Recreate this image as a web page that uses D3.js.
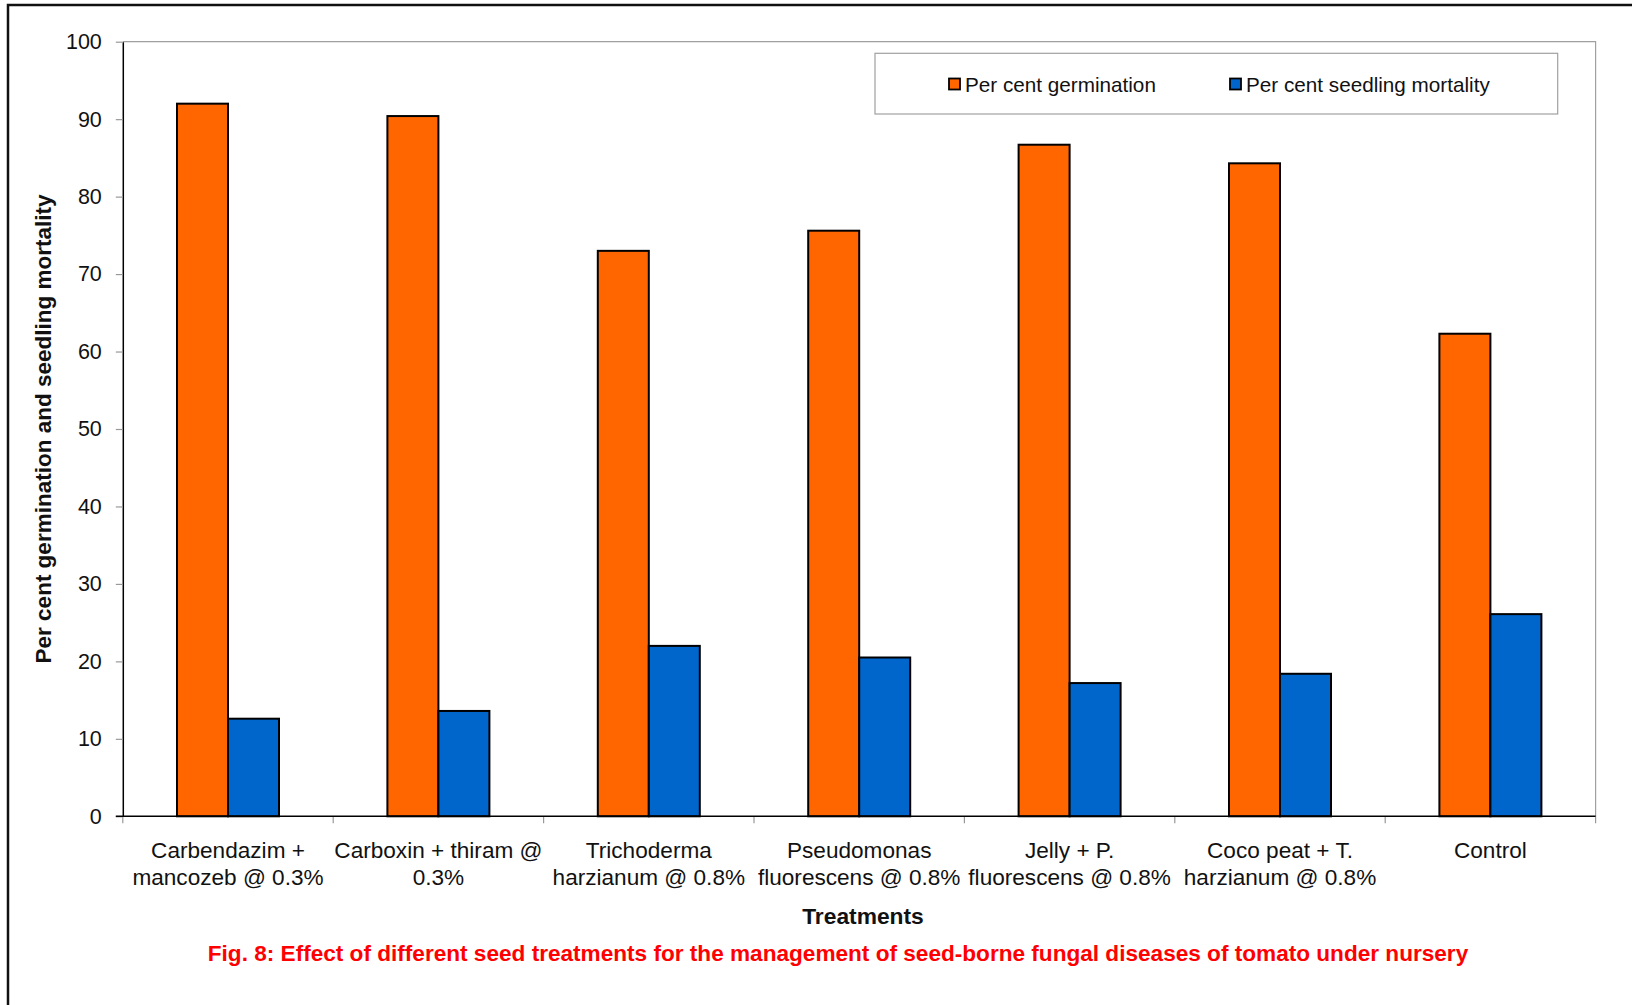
<!DOCTYPE html>
<html>
<head>
<meta charset="utf-8">
<script src="https://cdn.jsdelivr.net/npm/d3@7"></script>
<style>
  html, body { margin: 0; padding: 0; background: #fff; }
  svg { display: block; font-family: "Liberation Sans", Arial, sans-serif; }
</style>
</head>
<body>
<svg id="chart" width="1632" height="1005"></svg>
<script>
// Treatments (two-line labels) and the measured percentages
const treatments = [
  "Carbendazim + mancozeb",
  "Carboxin + thiram",
  "Trichoderma harzianum",
  "Pseudomonas fluorescens",
  "Jelly + P. fluorescens",
  "Coco peat + T. harzianum",
  "Control"
];
const labelLines = [
  ["Carbendazim +", "mancozeb @ 0.3%"],
  ["Carboxin + thiram @", "0.3%"],
  ["Trichoderma", "harzianum @ 0.8%"],
  ["Pseudomonas", "fluorescens @ 0.8%"],
  ["Jelly + P.", "fluorescens @ 0.8%"],
  ["Coco peat + T.", "harzianum @ 0.8%"],
  ["Control"]
];
const seriesNames = ["Per cent germination", "Per cent seedling mortality"];
const germination = [92.0, 90.4, 73.0, 75.6, 86.7, 84.3, 62.3];
const mortality = [12.6, 13.6, 22.0, 20.5, 17.2, 18.4, 26.1];
const yTicks = [0, 10, 20, 30, 40, 50, 60, 70, 80, 90, 100];
const colors = ["#FF6600", "#0066CC"];

const svg = d3.select("#chart");
const plotL = 122.8, plotR = 1595.6, plotT = 41.7, plotB = 816.3;

// outer frame
svg.append("rect")
  .attr("x", 8).attr("y", 5).attr("width", 1700).attr("height", 1100)
  .attr("fill", "none").attr("stroke", "#111").attr("stroke-width", 2.5);

const x = d3.scaleBand().domain(treatments).range([plotL, plotR]).padding(0);
const groupW = 102;
const xs = d3.scaleBand().domain(seriesNames).range([0, groupW]).padding(0);
const y = d3.scaleLinear().domain([0, 100]).range([plotB, plotT]);

// plot area top and right edges
svg.append("path")
  .attr("d", `M${plotL},${plotT}H${plotR}V${plotB}`)
  .attr("fill", "none").attr("stroke", "#a0a0a0").attr("stroke-width", 1.2);

// bars
const rows = treatments.map((t, i) => ({ t, vals: [germination[i], mortality[i]] }));
const groups = svg.append("g").selectAll("g").data(rows).join("g")
  .attr("transform", d => `translate(${x(d.t) + (x.bandwidth() - groupW) / 2},0)`);
groups.selectAll("rect")
  .data(d => d.vals.map((v, k) => ({ v, k })))
  .join("rect")
  .attr("x", d => xs(seriesNames[d.k]))
  .attr("width", xs.bandwidth())
  .attr("y", d => y(d.v))
  .attr("height", d => y(0) - y(d.v))
  .attr("fill", d => colors[d.k])
  .attr("stroke", "#000").attr("stroke-width", 2);

// y axis
const yAxis = svg.append("g").attr("transform", `translate(${plotL},0)`)
  .call(d3.axisLeft(y).tickValues(yTicks).tickSize(7).tickPadding(14).tickSizeOuter(0));
yAxis.select(".domain").attr("stroke", "#000").attr("stroke-width", 1.5);
yAxis.selectAll(".tick line").attr("stroke", "#999").attr("stroke-width", 1.2);
yAxis.selectAll(".tick text").attr("font-size", 21.5).attr("fill", "#111")
  .attr("font-family", "Liberation Sans, Arial, sans-serif");

// x axis: boundary ticks between treatments
const bounds = treatments.map(t => x(t)).concat([plotR]);
svg.append("g").selectAll("line").data(bounds).join("line")
  .attr("x1", d => d).attr("x2", d => d)
  .attr("y1", plotB).attr("y2", plotB + 7)
  .attr("stroke", "#999").attr("stroke-width", 1.2);
svg.append("line")
  .attr("x1", plotL - 7).attr("x2", plotR).attr("y1", plotB).attr("y2", plotB)
  .attr("stroke", "#000").attr("stroke-width", 1.5);

// x category labels
const xAxis = svg.append("g").attr("transform", `translate(0,${plotB})`)
  .call(d3.axisBottom(x).tickSize(0).tickSizeOuter(0).tickFormat(""));
xAxis.select(".domain").remove();
xAxis.selectAll(".tick text").remove();
xAxis.selectAll(".tick").each(function (d, i) {
  const t = d3.select(this).append("text")
    .attr("text-anchor", "middle").attr("font-size", 22.6).attr("fill", "#111");
  labelLines[i].forEach((ln, j) => {
    t.append("tspan").attr("x", 0).attr("y", 42 + j * 26.5).text(ln);
  });
});

// axis titles
svg.append("text")
  .attr("transform", `translate(51,${(plotT + plotB) / 2}) rotate(-90)`)
  .attr("text-anchor", "middle").attr("font-size", 22.5).attr("font-weight", "bold")
  .attr("fill", "#111")
  .text("Per cent germination and seedling mortality");

svg.append("text")
  .attr("x", 863).attr("y", 924)
  .attr("text-anchor", "middle").attr("font-size", 22.8).attr("font-weight", "bold")
  .attr("fill", "#111").text("Treatments");

svg.append("text")
  .attr("x", 838).attr("y", 961)
  .attr("text-anchor", "middle").attr("font-size", 22.6).attr("font-weight", "bold")
  .attr("fill", "#FF0000")
  .text("Fig. 8: Effect of different seed treatments for the management of seed-borne fungal diseases of tomato under nursery");

// legend
const lg = svg.append("g");
lg.append("rect")
  .attr("x", 875).attr("y", 53.3).attr("width", 682.7).attr("height", 60.7)
  .attr("fill", "#fff").attr("stroke", "#a0a0a0").attr("stroke-width", 1.2);
const legendX = [949, 1230];
seriesNames.forEach((s, k) => {
  lg.append("rect")
    .attr("x", legendX[k]).attr("y", 78.5).attr("width", 11).attr("height", 11)
    .attr("fill", colors[k]).attr("stroke", "#000").attr("stroke-width", 1.8);
  lg.append("text")
    .attr("x", legendX[k] + 16).attr("y", 91.5)
    .attr("font-size", 20.7).attr("fill", "#111").text(s);
});
</script>
</body>
</html>
